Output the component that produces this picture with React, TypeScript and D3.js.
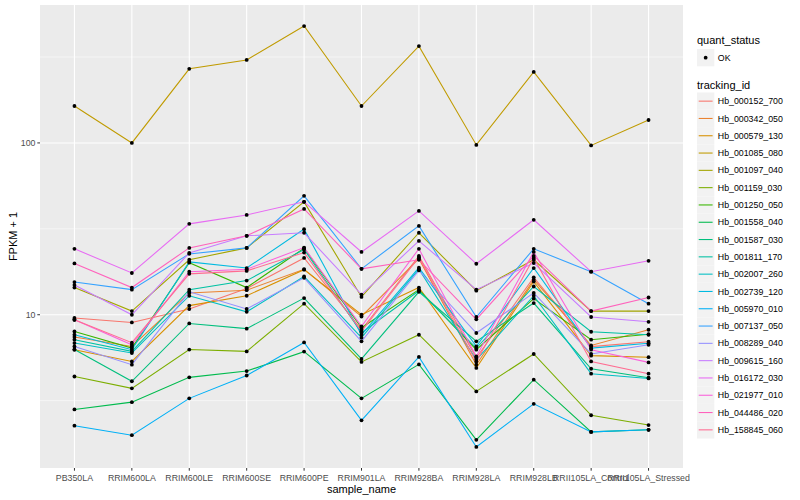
import React from 'react';
import * as d3 from 'd3';

// sample names on the x axis
const samples = [
  'PB350LA', 'RRIM600LA', 'RRIM600LE', 'RRIM600SE', 'RRIM600PE', 'RRIM901LA',
  'RRIM928BA', 'RRIM928LA', 'RRIM928LB', 'RRII105LA_Control', 'RRII105LA_Stressed',
];

const trackingIds = [
  'Hb_000152_700', 'Hb_000342_050', 'Hb_000579_130', 'Hb_001085_080', 'Hb_001097_040',
  'Hb_001159_030', 'Hb_001250_050', 'Hb_001558_040', 'Hb_001587_030', 'Hb_001811_170',
  'Hb_002007_260', 'Hb_002739_120', 'Hb_005970_010', 'Hb_007137_050', 'Hb_008289_040',
  'Hb_009615_160', 'Hb_016172_030', 'Hb_021977_010', 'Hb_044486_020', 'Hb_158845_060',
];

// ggplot hue palette, 20 levels
const palette = [
  '#F8766D', '#EA8331', '#D89000', '#C09B00', '#A3A500', '#7CAE00', '#39B600', '#00BB4E',
  '#00BF7D', '#00C1A3', '#00BFC4', '#00BAE0', '#00B0F6', '#35A2FF', '#9590FF', '#C77CFF',
  '#E76BF3', '#FA62DB', '#FF62BC', '#FF6C91',
];

// FPKM + 1, one row per tracking_id, in sample order
const fpkm = [
  [9.57, 9.02, 10.8, 14.2, 21.4, 8.18, 22.0, 5.62, 16.5, 6.52, 6.97],
  [7.42, 6.54, 13.4, 13.9, 18.4, 9.77, 21.2, 5.12, 16.0, 6.63, 8.18],
  [6.26, 5.35, 11.3, 12.9, 18.3, 10.0, 14.4, 4.90, 15.6, 5.78, 5.66],
  [164, 100, 270, 304, 479, 164, 366, 97.4, 259, 96.7, 136],
  [14.4, 10.5, 20.9, 24.5, 45.4, 12.7, 30.0, 13.8, 20.9, 10.5, 10.5],
  [4.37, 3.73, 6.27, 6.12, 11.6, 5.31, 7.65, 3.58, 5.91, 2.60, 2.28],
  [8.0, 6.4, 20.1, 14.4, 24.4, 8.4, 14.0, 6.26, 12.4, 7.16, 7.7],
  [2.81, 3.10, 4.32, 4.70, 6.10, 3.26, 5.14, 1.87, 4.19, 2.08, 2.14],
  [6.27, 4.10, 8.90, 8.30, 12.5, 5.53, 13.6, 7.0, 11.7, 4.85, 4.30],
  [7.16, 6.12, 14.0, 15.8, 24.0, 7.86, 13.8, 6.4, 14.6, 7.96, 7.65],
  [6.84, 5.99, 12.9, 10.4, 16.7, 7.35, 18.4, 5.47, 12.9, 4.54, 4.26],
  [7.65, 6.26, 20.3, 18.7, 31.5, 7.65, 18.8, 6.54, 18.7, 6.39, 6.82],
  [2.26, 1.99, 3.26, 4.43, 6.90, 2.43, 5.68, 1.70, 3.03, 2.08, 2.14],
  [15.5, 14.0, 22.6, 24.5, 49.2, 18.5, 32.9, 9.7, 24.2, 17.8, 11.6],
  [6.54, 5.12, 13.6, 10.8, 16.4, 7.0, 18.1, 7.83, 13.4, 5.91, 6.69],
  [14.9, 10.0, 22.9, 28.8, 30.0, 13.1, 26.9, 14.0, 20.0, 9.7, 9.1],
  [24.2, 17.5, 33.8, 38.1, 45.4, 23.2, 40.2, 19.8, 35.7, 17.8, 20.6],
  [9.35, 6.69, 17.8, 18.4, 24.6, 8.55, 24.2, 5.72, 23.2, 6.26, 5.28],
  [19.9, 14.4, 24.5, 28.8, 41.3, 18.5, 20.9, 9.4, 22.0, 10.5, 12.6],
  [9.35, 6.88, 17.3, 18.0, 23.0, 8.0, 21.6, 5.33, 21.4, 5.35, 4.54],
];

const yMajor = [10, 100];
const yMinor = [Math.sqrt(10), Math.sqrt(1000), Math.sqrt(100000)];

const FONT = '"Liberation Sans", Arial, Helvetica, sans-serif';

export default function App() {
  const width = 800;
  const height = 500;
  const panel = { left: 40, right: 683, top: 5, bottom: 468 };

  const x = d3.scalePoint<string>()
    .domain(samples)
    .range([panel.left, panel.right])
    .padding(0.6);

  // ggplot-style 5% expansion in log space
  const all = fpkm.flat();
  const [lo, hi] = d3.extent(all) as [number, number];
  const l0 = Math.log10(lo);
  const l1 = Math.log10(hi);
  const pad = (l1 - l0) * 0.05;
  const y = d3.scaleLog()
    .domain([Math.pow(10, l0 - pad), Math.pow(10, l1 + pad)])
    .range([panel.bottom, panel.top]);

  const line = d3.line<number>()
    .x((_, i) => x(samples[i]) as number)
    .y(d => y(d));

  const legendX = 697;
  const keySize = 17.3;
  const trackTop = 92.5;

  return (
    <svg width={width} height={height} style={{ position: 'absolute', left: 0, top: 0, background: '#fff' }}
      fontFamily={FONT}>
      <rect x={panel.left} y={panel.top} width={panel.right - panel.left} height={panel.bottom - panel.top}
        fill="#EBEBEB" />
      {yMinor.map(v => (
        <line key={'mn' + v} x1={panel.left} x2={panel.right} y1={y(v)} y2={y(v)} stroke="#fff" strokeWidth={0.55} />
      ))}
      {yMajor.map(v => (
        <line key={'mj' + v} x1={panel.left} x2={panel.right} y1={y(v)} y2={y(v)} stroke="#fff" strokeWidth={1.1} />
      ))}
      {samples.map(s => (
        <line key={'gx' + s} x1={x(s)} x2={x(s)} y1={panel.top} y2={panel.bottom} stroke="#fff" strokeWidth={1.1} />
      ))}

      {fpkm.map((row, i) => (
        <path key={'l' + i} d={line(row) as string} fill="none" stroke={palette[i]} strokeWidth={1.07} />
      ))}
      {fpkm.map((row, i) => row.map((v, j) => (
        <circle key={'p' + i + '-' + j} cx={x(samples[j])} cy={y(v)} r={1.9} fill="#000" />
      )))}

      {/* y axis */}
      {yMajor.map(v => (
        <g key={'yt' + v}>
          <line x1={panel.left - 2.7} x2={panel.left} y1={y(v)} y2={y(v)} stroke="#333" strokeWidth={1} />
          <text x={panel.left - 4.5} y={y(v)} dy="0.35em" textAnchor="end" fontSize={8.8} fill="#4D4D4D">{v}</text>
        </g>
      ))}
      <text transform={`translate(17,${(panel.top + panel.bottom) / 2}) rotate(-90)`} textAnchor="middle"
        fontSize={11} fill="#000">FPKM + 1</text>

      {/* x axis */}
      {samples.map(s => (
        <g key={'xt' + s}>
          <line x1={x(s)} x2={x(s)} y1={panel.bottom} y2={panel.bottom + 2.7} stroke="#333" strokeWidth={1} />
          <text x={x(s)} y={panel.bottom + 12.5} textAnchor="middle" fontSize={8.8} fill="#4D4D4D">{s}</text>
        </g>
      ))}
      <text x={(panel.left + panel.right) / 2} y={493} textAnchor="middle" fontSize={11} fill="#000">sample_name</text>

      {/* legend: quant_status */}
      <text x={legendX} y={44} fontSize={11} fill="#000">quant_status</text>
      <rect x={legendX} y={49} width={keySize} height={keySize} fill="#F2F2F2" />
      <circle cx={legendX + keySize / 2} cy={49 + keySize / 2} r={1.9} fill="#000" />
      <text x={legendX + keySize + 3.5} y={49 + keySize / 2} dy="0.35em" fontSize={8.8} fill="#000">OK</text>

      {/* legend: tracking_id */}
      <text x={legendX} y={89} fontSize={11} fill="#000">tracking_id</text>
      {trackingIds.map((id, i) => {
        const ky = trackTop + i * keySize;
        return (
          <g key={'lg' + id}>
            <rect x={legendX} y={ky} width={keySize} height={keySize} fill="#F2F2F2" />
            <line x1={legendX + 1.7} x2={legendX + keySize - 1.7} y1={ky + keySize / 2} y2={ky + keySize / 2}
              stroke={palette[i]} strokeWidth={1.07} />
            <text x={legendX + keySize + 3.5} y={ky + keySize / 2} dy="0.35em" fontSize={8.8} fill="#000">{id}</text>
          </g>
        );
      })}
    </svg>
  );
}
